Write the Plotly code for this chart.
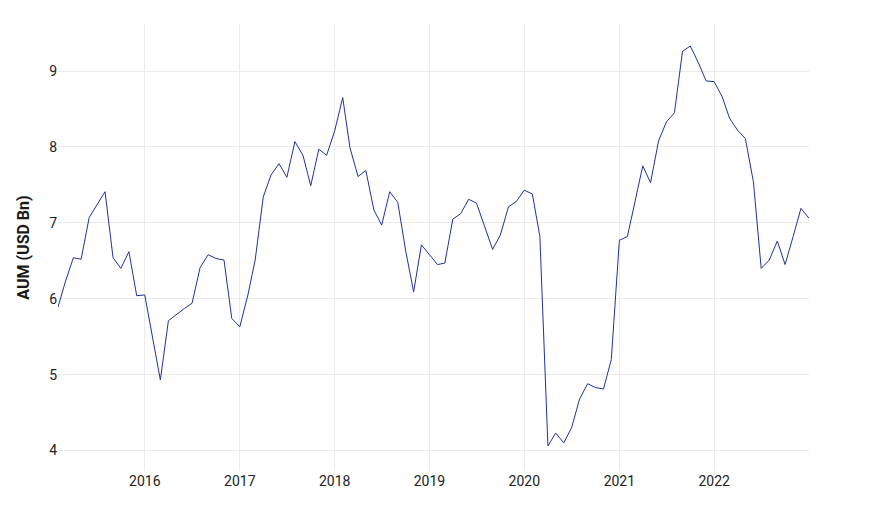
import plotly.graph_objects as go
import pandas as pd

# monthly AUM, Feb 2015 - Jan 2023
months = pd.date_range("2015-02-01", "2023-01-01", freq="MS")

aum_usd_bn = [
    # 2015 Feb-Dec
    5.89, 6.22, 6.54, 6.52, 7.07, 7.24, 7.41, 6.54, 6.40, 6.62, 6.04,
    # 2016
    6.05, 5.49, 4.93, 5.71, 5.79, 5.87, 5.94, 6.41, 6.58, 6.53, 6.51, 5.74,
    # 2017
    5.63, 6.05, 6.51, 7.34, 7.63, 7.78, 7.60, 8.07, 7.89, 7.49, 7.97, 7.89,
    # 2018
    8.21, 8.65, 7.99, 7.61, 7.69, 7.17, 6.97, 7.41, 7.27, 6.64, 6.09, 6.71,
    # 2019
    6.58, 6.45, 6.47, 7.05, 7.12, 7.31, 7.26, 6.95, 6.65, 6.84, 7.21, 7.28,
    # 2020
    7.43, 7.38, 6.82, 4.06, 4.23, 4.10, 4.30, 4.68, 4.88, 4.83, 4.81, 5.20,
    # 2021
    6.77, 6.82, 7.28, 7.75, 7.53, 8.08, 8.33, 8.45, 9.26, 9.33, 9.11, 8.87,
    # 2022
    8.86, 8.66, 8.38, 8.22, 8.11, 7.54, 6.40, 6.51, 6.76, 6.45, 6.82, 7.19,
    # 2023
    7.06,
]

year_ticks = ["2016-01-01", "2017-01-01", "2018-01-01", "2019-01-01",
              "2020-01-01", "2021-01-01", "2022-01-01"]
year_labels = ["2016", "2017", "2018", "2019", "2020", "2021", "2022"]

fig = go.Figure()
fig.add_trace(go.Scatter(
    x=months, y=aum_usd_bn,
    mode="lines",
    line=dict(color="#1f3299", width=1),
    name="AUM",
))

# no fixed size: page fills the browser window (minus the 8px body margin)
fig.update_layout(
    paper_bgcolor="white", plot_bgcolor="white",
    font=dict(family="Roboto", size=14, color="#222222"),
    showlegend=False,
    margin=dict(l=50, r=53, t=16, b=37),
)
fig.update_xaxes(
    tickvals=year_ticks, ticktext=year_labels,
    showgrid=True, gridcolor="#ebebeb", zeroline=False,
    showline=False, ticks="",
)
fig.update_yaxes(
    title=dict(text="AUM (USD Bn)", font=dict(size=16, color="#1a1a1a", weight="bold")),
    range=[3.73, 9.62], dtick=1,
    showgrid=True, gridcolor="#ebebeb", zeroline=False,
    showline=False, ticks="",
)

fig.write_html("out.html")
